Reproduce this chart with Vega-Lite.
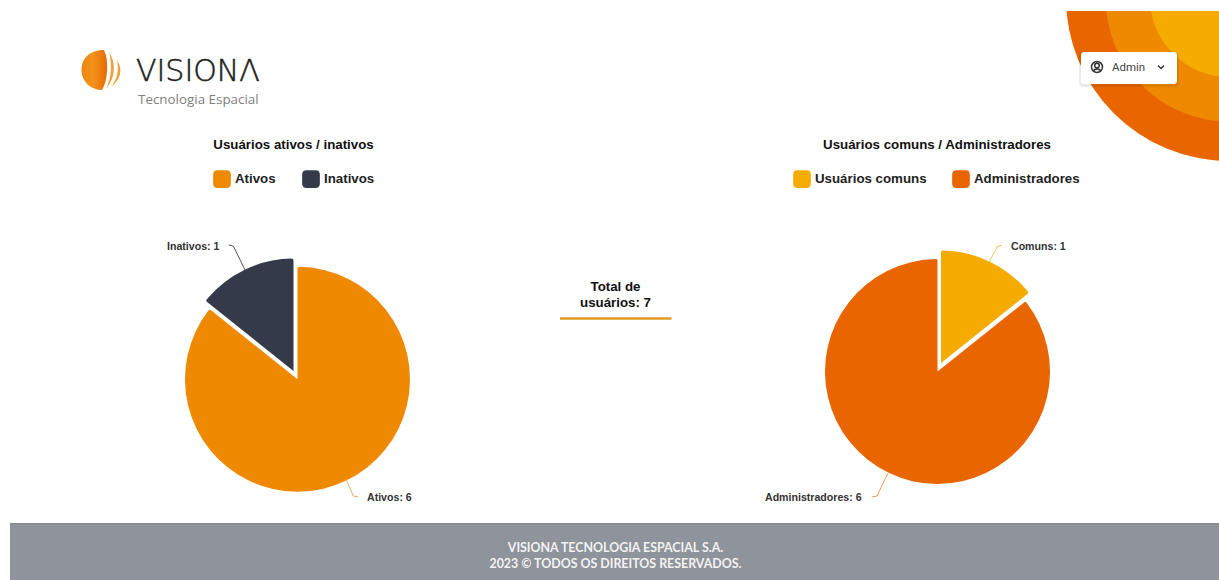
{
"$schema":"https://vega.github.io/schema/vega-lite/v6.json",
"background":"white","padding":0,"spacing":0,"bounds":"flush",
"config":{"view":{"stroke":null},"font":"Liberation Sans"},
"resolve":{"scale":{"color":"independent"},"legend":{"color":"independent"}},
"hconcat":[
 {"width":594,"height":580,
  "title":{"text":"Usuários ativos / inativos","font":"Liberation Sans","fontSize":13.3,"fontWeight":"bold","color":"#111111","anchor":"middle","dx":-3.5,"offset":0,"dy":151},
  "layer":[
   {"data":{"values":[{"item":"rodape"}]},"mark":{"type":"rect","color":"#8F939B"},"encoding":{"x":{"value":10},"x2":{"value":1219},"y":{"value":523},"y2":{"value":580}}},
   {"data":{"values":[{"item":"rodape"}]},"mark":{"type":"rule","color":"#85878B","strokeWidth":1},"encoding":{"x":{"value":10},"x2":{"value":1219},"y":{"value":523.5}}},
   {"data":{"values":[{"rotulo":"VISIONA TECNOLOGIA ESPACIAL S.A.\n2023 © TODOS OS DIREITOS RESERVADOS."}]},"mark":{"type":"text","font":"Lato","fontSize":12.4,"fontWeight":"bold","color":"#F2F2F2","align":"center","baseline":"middle","lineBreak":"\n","lineHeight":15.5},"encoding":{"text":{"field":"rotulo"},"x":{"value":615.5},"y":{"value":548}}},
   {"data":{"values":[{"item":"logo"}]},"mark":{"type":"point","size":4,"opacity":1,"filled":true,"shape":"M24,0C8,0,1,10,1.5,21C2,32,11,40,22,40C28,30,29,10,24,0Z","color":{"x1":0,"y1":0,"x2":1,"y2":0,"gradient":"linear","stops":[{"offset":0,"color":"#F0860E"},{"offset":0.45,"color":"#F3931A"},{"offset":1,"color":"#E56A05"}]}},"encoding":{"x":{"value":80},"y":{"value":50}}},
   {"data":{"values":[{"item":"logo"}]},"mark":{"type":"point","size":4,"opacity":1,"filled":true,"shape":"M29,2C36,13,36,27,26,39C32,27,32,13,29,2Z","color":"#F0A040"},"encoding":{"x":{"value":80},"y":{"value":50}}},
   {"data":{"values":[{"item":"logo"}]},"mark":{"type":"point","size":4,"opacity":1,"filled":true,"shape":"M37,10C43,20,41,29,31,37C38,28,39,19,37,10Z","color":"#EFA030"},"encoding":{"x":{"value":80},"y":{"value":50}}},
   {"data":{"values":[{"item":"logo"}]},"mark":{"type":"text","text":"VISIONΛ","font":"DejaVu Sans","fontWeight":200,"fontSize":30,"color":"#222222","stroke":"#222222","strokeWidth":0.5,"align":"left","baseline":"alphabetic"},"encoding":{"x":{"value":136},"y":{"value":81}}},
   {"data":{"values":[{"item":"logo"}]},"mark":{"type":"text","text":"Tecnologia Espacial","font":"Open Sans","fontSize":13.4,"color":"#7f7f7f","align":"left","baseline":"alphabetic"},"encoding":{"x":{"value":138},"y":{"value":104}}},
   {"data":{"name":"ativos","values":[{"categoria":"Ativos","usuarios":6,"rotulo":"Ativos: 6"},{"categoria":"Inativos","usuarios":1,"rotulo":"Inativos: 1"}]},
    "transform":[{"stack":"usuarios","groupby":[],"as":["inicio","fim"]}],
    "layer":[
     {"transform":[{"filter":"datum.categoria==='Ativos'"}],"mark":{"type":"arc","radius":112.5,"xOffset":0.5,"yOffset":89.25,"cornerRadius":1.5},
      "encoding":{"theta":{"field":"inicio","type":"quantitative","stack":null,"scale":{"domain":[0,7]}},"theta2":{"field":"fim"},
       "color":{"field":"categoria","type":"nominal","sort":null,"scale":{"domain":["Ativos","Inativos"],"range":["#EE8900","#343A4A"]},
        "legend":{"title":null,"orient":"none","legendX":213,"legendY":170,"columns":2,"columnPadding":26,"padding":0,"labelFont":"Liberation Sans","labelFontSize":13.3,"labelFontWeight":"bold","labelColor":"#222222","labelOffset":4,"symbolSize":314,"symbolStrokeWidth":0,"symbolOpacity":1,"symbolType":"M-0.5,-1H0.5Q1,-1,1,-0.5V0.5Q1,1,0.5,1H-0.5Q-1,1,-1,0.5V-0.5Q-1,-1,-0.5,-1Z"}}}},
     {"transform":[{"filter":"datum.categoria==='Inativos'"}],"mark":{"type":"arc","radius":112.5,"xOffset":-3.5,"yOffset":81,"cornerRadius":2},
      "encoding":{"theta":{"field":"inicio","type":"quantitative","stack":null,"scale":{"domain":[0,7]}},"theta2":{"field":"fim"},
       "color":{"field":"categoria","type":"nominal","sort":null,"scale":{"domain":["Ativos","Inativos"],"range":["#EE8900","#343A4A"]}}}},
     {"transform":[{"filter":"datum.categoria==='Inativos'"}],"mark":{"type":"rule","color":"#555555","strokeWidth":1},"encoding":{"x":{"value":228.7},"y":{"value":245},"x2":{"value":233.3},"y2":{"value":246}}},
     {"transform":[{"filter":"datum.categoria==='Inativos'"}],"mark":{"type":"rule","color":"#555555","strokeWidth":1},"encoding":{"x":{"value":233.3},"y":{"value":246},"x2":{"value":245},"y2":{"value":270}}},
     {"transform":[{"filter":"datum.categoria==='Ativos'"}],"mark":{"type":"rule","color":"#E5B06A","strokeWidth":1},"encoding":{"x":{"value":346},"y":{"value":479},"x2":{"value":353.3},"y2":{"value":496}}},
     {"transform":[{"filter":"datum.categoria==='Ativos'"}],"mark":{"type":"rule","color":"#E5B06A","strokeWidth":1},"encoding":{"x":{"value":353.3},"y":{"value":496},"x2":{"value":358.3},"y2":{"value":497}}},
     {"transform":[{"filter":"datum.categoria==='Inativos'"}],"mark":{"type":"text","font":"Liberation Sans","fontSize":10.6,"fontWeight":"bold","color":"#333333","align":"left","baseline":"middle"},"encoding":{"text":{"field":"rotulo"},"x":{"value":167},"y":{"value":247}}},
     {"transform":[{"filter":"datum.categoria==='Ativos'"}],"mark":{"type":"text","font":"Liberation Sans","fontSize":10.6,"fontWeight":"bold","color":"#333333","align":"left","baseline":"middle"},"encoding":{"text":{"field":"rotulo"},"x":{"value":367},"y":{"value":498}}}
    ]}
  ]},
 {"width":63,"height":580,"data":{"values":[{"rotulo":"Total de\nusuários: 7","total":7}]},
  "layer":[
   {"mark":{"type":"text","font":"Liberation Sans","fontSize":13.3,"fontWeight":"bold","color":"#111111","align":"center","baseline":"middle","lineBreak":"\n","lineHeight":16},"encoding":{"text":{"field":"rotulo"},"x":{"value":21.5},"y":{"value":287}}},
   {"mark":{"type":"rule","color":"#E29A26","strokeWidth":2.5},"encoding":{"x":{"value":-34},"x2":{"value":77.5},"y":{"value":318.5}}}
  ]},
 {"width":562,"height":580,
  "title":{"text":"Usuários comuns / Administradores","font":"Liberation Sans","fontSize":13.3,"fontWeight":"bold","color":"#111111","anchor":"middle","dx":-1,"offset":0,"dy":151},
  "layer":[
   {"data":{"values":[{"item":"canto"}]},"mark":{"type":"arc","clip":true,"yOffset":-292,"xOffset":291,"radius":163,"color":"#E86500"},"encoding":{"theta":{"value":0},"theta2":{"value":6.2832}}},
   {"data":{"values":[{"item":"canto"}]},"mark":{"type":"arc","clip":true,"yOffset":-292,"xOffset":291,"radius":123.5,"color":"#EE8900"},"encoding":{"theta":{"value":0},"theta2":{"value":6.2832}}},
   {"data":{"values":[{"item":"canto"}]},"mark":{"type":"arc","clip":true,"yOffset":-292,"xOffset":291,"radius":79,"color":"#F5AB00"},"encoding":{"theta":{"value":0},"theta2":{"value":6.2832}}},
   {"data":{"values":[{"item":"canto"}]},"mark":{"type":"rect","color":"white"},"encoding":{"x":{"value":383},"x2":{"value":562},"y":{"value":0},"y2":{"value":11}}},
   {"data":{"values":[{"item":"botao"}]},"mark":{"type":"rect","color":"#000000","opacity":0.08,"cornerRadius":4},"encoding":{"x":{"value":422},"x2":{"value":522},"y":{"value":52},"y2":{"value":87}}},
   {"data":{"values":[{"item":"botao"}]},"mark":{"type":"rect","color":"white","cornerRadius":3},"encoding":{"x":{"value":424},"x2":{"value":520},"y":{"value":52},"y2":{"value":84}}},
   {"data":{"values":[{"item":"botao"}]},"mark":{"type":"point","filled":false,"size":4,"stroke":"#333333","strokeWidth":1.5,"opacity":1,"shape":"M5.5,0A5.5,5.5,0,1,1,-5.5,0A5.5,5.5,0,1,1,5.5,0M2.3,-1.5A2.3,2.3,0,1,1,-2.3,-1.5A2.3,2.3,0,1,1,2.3,-1.5M-3.8,3.8Q0,0,3.8,3.8"},"encoding":{"x":{"value":440},"y":{"value":67}}},
   {"data":{"values":[{"item":"botao"}]},"mark":{"type":"text","text":"Admin","font":"Roboto","fontSize":11.5,"color":"#444444","align":"left","baseline":"middle"},"encoding":{"x":{"value":455},"y":{"value":68}}},
   {"data":{"values":[{"item":"botao"}]},"mark":{"type":"point","filled":false,"size":4,"stroke":"#333333","strokeWidth":1.5,"opacity":1,"shape":"M-3,-1.5L0,1.5L3,-1.5"},"encoding":{"x":{"value":504},"y":{"value":67}}},
   {"data":{"name":"comuns","values":[{"categoria":"Usuários comuns","usuarios":1,"rotulo":"Comuns: 1"},{"categoria":"Administradores","usuarios":6,"rotulo":"Administradores: 6"}]},
    "transform":[{"stack":"usuarios","groupby":[],"as":["inicio","fim"]}],
    "layer":[
     {"transform":[{"filter":"datum.categoria==='Administradores'"}],"mark":{"type":"arc","radius":112.5,"xOffset":-0.5,"yOffset":81.5,"cornerRadius":1.5},
      "encoding":{"theta":{"field":"inicio","type":"quantitative","stack":null,"scale":{"domain":[0,7]}},"theta2":{"field":"fim"},
       "color":{"field":"categoria","type":"nominal","sort":null,"scale":{"domain":["Usuários comuns","Administradores"],"range":["#F5AB00","#E86500"]},
        "legend":{"title":null,"orient":"none","legendX":136,"legendY":170,"columns":2,"columnPadding":25,"padding":0,"labelFont":"Liberation Sans","labelFontSize":13.3,"labelFontWeight":"bold","labelColor":"#222222","labelOffset":4,"symbolSize":314,"symbolStrokeWidth":0,"symbolOpacity":1,"symbolType":"M-0.5,-1H0.5Q1,-1,1,-0.5V0.5Q1,1,0.5,1H-0.5Q-1,1,-1,0.5V-0.5Q-1,-1,-0.5,-1Z"}}}},
     {"transform":[{"filter":"datum.categoria==='Usuários comuns'"}],"mark":{"type":"arc","radius":112.5,"xOffset":3,"yOffset":73,"cornerRadius":2},
      "encoding":{"theta":{"field":"inicio","type":"quantitative","stack":null,"scale":{"domain":[0,7]}},"theta2":{"field":"fim"},
       "color":{"field":"categoria","type":"nominal","sort":null,"scale":{"domain":["Usuários comuns","Administradores"],"range":["#F5AB00","#E86500"]}}}},
     {"transform":[{"filter":"datum.categoria==='Usuários comuns'"}],"mark":{"type":"rule","color":"#EFC45A","strokeWidth":1},"encoding":{"x":{"value":332.3},"y":{"value":261.7},"x2":{"value":340.7},"y2":{"value":246}}},
     {"transform":[{"filter":"datum.categoria==='Usuários comuns'"}],"mark":{"type":"rule","color":"#EFC45A","strokeWidth":1},"encoding":{"x":{"value":340.7},"y":{"value":246},"x2":{"value":344.7},"y2":{"value":245.5}}},
     {"transform":[{"filter":"datum.categoria==='Administradores'"}],"mark":{"type":"rule","color":"#EE9A50","strokeWidth":1},"encoding":{"x":{"value":231},"y":{"value":473},"x2":{"value":220},"y2":{"value":496}}},
     {"transform":[{"filter":"datum.categoria==='Administradores'"}],"mark":{"type":"rule","color":"#EE9A50","strokeWidth":1},"encoding":{"x":{"value":220},"y":{"value":496},"x2":{"value":215},"y2":{"value":497}}},
     {"transform":[{"filter":"datum.categoria==='Usuários comuns'"}],"mark":{"type":"text","font":"Liberation Sans","fontSize":10.6,"fontWeight":"bold","color":"#333333","align":"left","baseline":"middle"},"encoding":{"text":{"field":"rotulo"},"x":{"value":354},"y":{"value":247}}},
     {"transform":[{"filter":"datum.categoria==='Administradores'"}],"mark":{"type":"text","font":"Liberation Sans","fontSize":10.6,"fontWeight":"bold","color":"#333333","align":"left","baseline":"middle"},"encoding":{"text":{"field":"rotulo"},"x":{"value":108},"y":{"value":498}}}
    ]}
  ]}
]}
